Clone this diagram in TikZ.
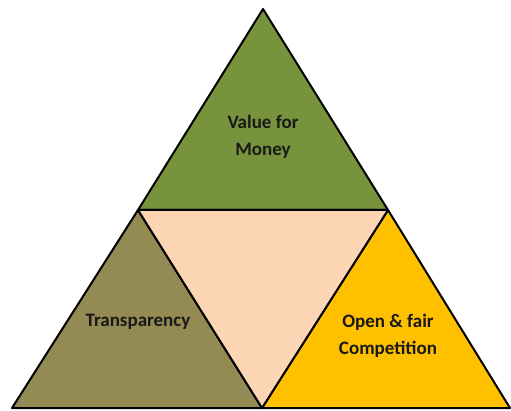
\documentclass[tikz,border=0pt]{standalone}
\usepackage{fontspec}
\setmainfont{Carlito}
\definecolor{olivegreen}{HTML}{77933C}
\definecolor{tanbrown}{HTML}{948A54}
\definecolor{goldyellow}{HTML}{FFC000}
\definecolor{peach}{HTML}{FCD5B5}
\begin{document}
\begin{tikzpicture}
[
 x=1pt, y=-1pt,
 TRI/.style={draw=black, line width=2pt, line join=round},
 LABEL/.style={font=\bfseries\fontsize{19}{27}\selectfont, text=black!90, align=center, inner sep=0pt},
 ]
\useasboundingbox (0,0) rectangle (511,411);
%
\coordinate (TOP)  at (263,9);
\coordinate (LMID) at (138,210);
\coordinate (RMID) at (388,210);
\coordinate (BL)   at (12,408);
\coordinate (BM)   at (262,408);
\coordinate (BR)   at (510,408);
%
\filldraw [TRI, fill=olivegreen]  (TOP)  -- (LMID) -- (RMID) -- cycle;
\filldraw [TRI, fill=tanbrown]    (LMID) -- (BL)   -- (BM)   -- cycle;
\filldraw [TRI, fill=goldyellow]  (RMID) -- (BM)   -- (BR)   -- cycle;
\filldraw [TRI, fill=peach]       (LMID) -- (RMID) -- (BM)   -- cycle;
%
\node [LABEL]  (VALUE)  at (263,137)  {Value for\\Money};
\node [LABEL]  (TRANS)  at (138,322)  {Transparency};
\node [LABEL]  (OPEN)   at (388,336)  {Open \& fair\\Competition};
%
\end{tikzpicture}
\end{document}
